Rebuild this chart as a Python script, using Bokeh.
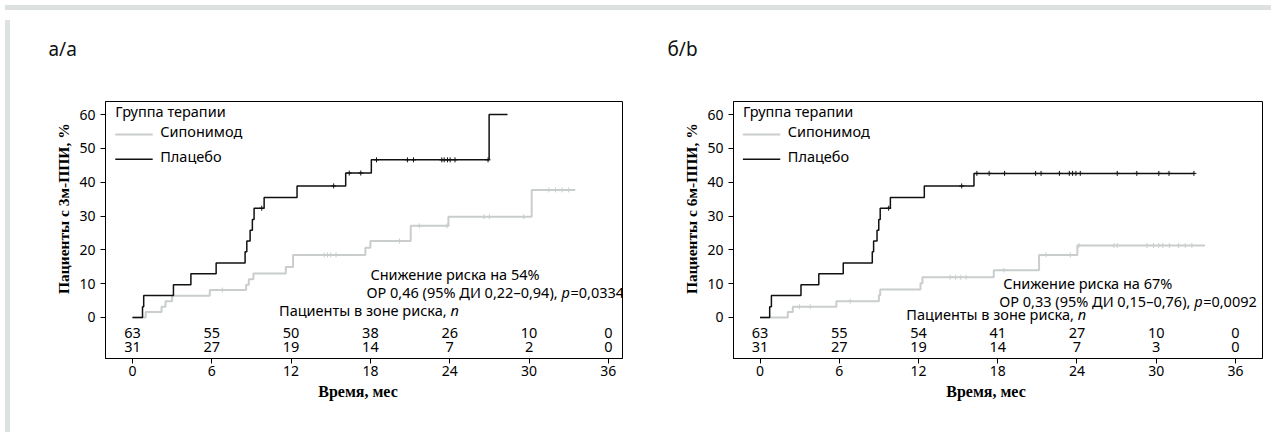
from bokeh.plotting import figure
from bokeh.models import FixedTicker, Range1d, Title, Div
from bokeh.layouts import row, column
from bokeh.embed import file_html
from bokeh.resources import INLINE
from bokeh.core.properties import value

# ---------------- data ----------------
month_ticks = [0, 6, 12, 18, 24, 30, 36]
pct_ticks = [0, 10, 20, 30, 40, 50, 60]

# Panel a: 3-month confirmed disability progression
a_plac_t = [0, 0.76, 0.85, 3.1, 4.42, 6.33, 8.52, 8.65, 8.9, 9.07, 9.2, 9.96, 12.45, 16.13, 18.07, 26.98, 28.37]
a_plac_v = [0, 3.2, 6.5, 9.7, 12.9, 16.1, 19.4, 22.6, 25.8, 29.0, 32.3, 35.5, 38.9, 42.7, 46.6, 60.0, 60.0]
a_plac_cens = [9.78, 15.22, 16.4, 17.27, 18.46, 20.8, 21.26, 23.4, 23.58, 23.83, 24.03, 24.4, 26.9]

a_sip_t = [0, 1.0, 2.2, 2.5, 3.0, 5.85, 8.6, 8.8, 9.15, 11.6, 12.15, 17.62, 18.0, 21.05, 23.9, 30.2, 33.5]
a_sip_v = [0, 1.6, 3.2, 4.8, 6.4, 8.1, 9.7, 11.3, 13.0, 14.9, 18.5, 20.6, 22.6, 27.1, 29.8, 37.7, 37.7]
a_sip_cens = [6.8, 14.5, 14.75, 15.0, 15.4, 20.2, 21.7, 23.8, 26.6, 27.0, 29.6, 31.5, 32.0, 32.5, 33.0]

a_risk_sip = [63, 55, 50, 38, 26, 10, 0]
a_risk_plac = [31, 27, 19, 14, 7, 2, 0]

# Panel b: 6-month confirmed disability progression
b_plac_t = [0, 0.73, 0.86, 3.1, 4.45, 6.3, 8.5, 8.6, 8.86, 8.99, 9.1, 9.87, 12.44, 16.2, 32.86]
b_plac_v = [0, 3.2, 6.5, 9.7, 12.9, 16.1, 19.4, 22.6, 25.8, 29.0, 32.3, 35.5, 38.9, 42.6, 42.6]
b_plac_cens = [9.74, 15.27, 16.42, 17.35, 18.52, 20.87, 21.28, 22.67, 23.42, 23.67, 23.92, 24.25,
               27.05, 28.53, 30.2, 30.97, 32.86]

b_sip_t = [0, 2.1, 2.48, 5.78, 9.0, 9.1, 12.15, 12.3, 17.7, 21.13, 24.03, 33.7]
b_sip_v = [0, 1.6, 3.2, 4.8, 6.6, 8.3, 10.1, 11.9, 14.0, 18.5, 21.3, 21.3]
b_sip_cens = [2.98, 3.8, 6.83, 14.4, 14.8, 15.2, 15.6, 18.46, 21.66, 23.5, 24.15, 26.8, 27.05,
              29.3, 29.8, 30.2, 30.5, 31.0, 31.7, 32.2, 32.7]

b_risk_sip = [63, 55, 54, 41, 27, 10, 0]
b_risk_plac = [31, 27, 19, 14, 7, 3, 0]

# ---------------- style ----------------
SANS = "Noto Sans"
SERIF = "Liberation Serif"
GRAY = "#c9cdcd"
BLACK = "#111111"
BAND = "#dde1e1"
FS = "14.5px"
NB = "\u00a0"


def step_level(times, vals, t):
    lvl = vals[0]
    for tt, vv in zip(times, vals):
        if tt <= t:
            lvl = vv
    return lvl


def txt(p, x, y, s, align="left", style="normal", xoff=0):
    p.text(x=x, y=y, text=s, x_offset=xoff, text_font=value(SANS), text_font_size=FS,
           text_font_style=style, text_baseline="middle", text_align=align,
           text_color="black")


def make_panel(tag, tag_off, ylab, xlab_pad, xr, width, mbl, mbr,
               plac_t, plac_v, plac_cens, sip_t, sip_v, sip_cens,
               risk_sip, risk_plac, reduction, hr_text, pval,
               red_xy, risk_xy):
    p = figure(width=width, height=412, output_backend="svg", toolbar_location=None,
               x_range=Range1d(*xr), y_range=Range1d(-12.12, 63.85),
               min_border_left=mbl, min_border_right=mbr,
               min_border_top=86, min_border_bottom=69,
               background_fill_color="white", border_fill_color="white",
               outline_line_color="black", outline_line_width=1)
    p.grid.visible = False
    # invisible spacer next to the frame, then the panel tag above it
    p.add_layout(Title(text=NB, standoff=35, text_font_size="1px"), "above")
    p.add_layout(Title(text=tag, align="left", vertical_align="top", offset=tag_off,
                       standoff=0, text_font=SANS, text_font_size="19px",
                       text_font_style="normal", text_color="#111111"), "above")

    for ax in (p.xaxis[0], p.yaxis[0]):
        ax.axis_line_color = "black"
        ax.major_tick_line_color = "black"
        ax.major_tick_out = 5
        ax.major_tick_in = 0
        ax.minor_tick_line_color = None
        ax.major_label_text_font = SANS
        ax.major_label_text_font_size = "14px"
        ax.major_label_text_color = "black"
        ax.axis_label_text_font = SERIF
        ax.axis_label_text_font_style = "bold"
        ax.axis_label_text_color = "black"
    p.xaxis.axis_label_text_font_size = "16px"
    p.yaxis.axis_label_text_font_size = "15.5px"
    p.xaxis.ticker = FixedTicker(ticks=month_ticks)
    p.yaxis.ticker = FixedTicker(ticks=pct_ticks)
    # non-breaking padding shifts the centred labels as in the original
    p.xaxis.axis_label = "Время, мес" + NB * xlab_pad
    p.yaxis.axis_label = NB * 11 + ylab
    p.xaxis.major_label_standoff = 2
    p.yaxis.major_label_standoff = 5
    p.xaxis.axis_label_standoff = 4
    p.yaxis.axis_label_standoff = 4

    # curves
    p.step(x=sip_t, y=sip_v, mode="after", line_color=GRAY, line_width=2)
    p.scatter(x=sip_cens, y=[step_level(sip_t, sip_v, c) for c in sip_cens],
              marker="cross", size=5, line_color=GRAY, line_width=1)
    p.step(x=plac_t, y=plac_v, mode="after", line_color=BLACK, line_width=1.5)
    p.scatter(x=plac_cens, y=[step_level(plac_t, plac_v, c) for c in plac_cens],
              marker="cross", size=5, line_color=BLACK, line_width=1)

    # legend
    txt(p, [-1.3], [61.0], ["Группа терапии"])
    p.segment(x0=[-1.3], y0=[54.1], x1=[1.53], y1=[54.1], line_color=GRAY, line_width=2)
    p.segment(x0=[-1.3], y0=[46.8], x1=[1.53], y1=[46.8], line_color=BLACK, line_width=1.5)
    txt(p, [2.1, 2.1], [55.0, 47.7], ["Сипонимод", "Плацебо"])

    # statistics
    rx, ry = red_xy
    txt(p, [rx], [ry + 0.8], [reduction])
    ry2 = ry - 4.5
    txt(p, [rx], [ry2], [hr_text], align="right", xoff=191)
    txt(p, [rx], [ry2], ["p"], style="italic", xoff=191)
    txt(p, [rx], [ry2], [pval], xoff=200)

    # risk table
    kx, ky = risk_xy
    txt(p, [kx], [ky + 0.8], ["Пациенты в зоне риска, "], align="right", xoff=167)
    txt(p, [kx], [ky + 0.8], ["n"], style="italic", xoff=167)
    txt(p, month_ticks, [-4.5] * len(month_ticks), [str(v) for v in risk_sip], align="center")
    txt(p, month_ticks, [-8.7] * len(month_ticks), [str(v) for v in risk_plac], align="center")
    return p


p1 = make_panel("а/a", -57, "Пациенты с 3м-ППИ, %", 3, (-2.04, 37.07), 627, 90, 20,
                a_plac_t, a_plac_v, a_plac_cens, a_sip_t, a_sip_v, a_sip_cens,
                a_risk_sip, a_risk_plac, "Снижение риска на 54%",
                "ОР 0,46 (95% ДИ 0,22–0,94), ", "=0,0334", (18.0, 12.1), (11.42, 1.3))
p2 = make_panel("б/b", -66, "Пациенты с 6м-ППИ, %", 6, (-2.01, 38.05), 634, 91, 14,
                b_plac_t, b_plac_v, b_plac_cens, b_sip_t, b_sip_v, b_sip_cens,
                b_risk_sip, b_risk_plac, "Снижение риска на 67%",
                "ОР 0,33 (95% ДИ 0,15–0,76), ", "=0,0092", (18.41, 9.5), (11.41, 0.3))

top_band = Div(text="", width=1266, height=5, styles={"background-color": BAND})
left_band = Div(text="", width=5, height=412, styles={"background-color": BAND})
layout = column(top_band, row(left_band, p1, p2, spacing=0), spacing=0)

open("out.html", "w").write(file_html(layout, INLINE))
